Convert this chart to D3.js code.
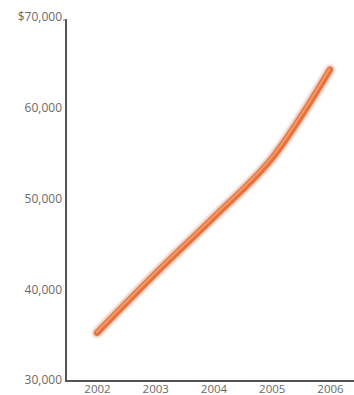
<!DOCTYPE html>
<html>
<head>
<meta charset="utf-8">
<script src="https://cdn.jsdelivr.net/npm/d3@7"></script>
<style>
  html, body { margin: 0; padding: 0; background: #fff; }
  svg { display: block; }
</style>
</head>
<body>
<svg id="chart" width="354" height="395"></svg>
<script>
// Yearly values
const years = ["2002", "2003", "2004", "2005", "2006"];
const values = [35200, 41700, 47900, 54400, 64200];
const yTicks = [30000, 40000, 50000, 60000, 70000];

const svg = d3.select("#chart");
const W = 354, H = 395;
const axisX = 66, axisY = 381, topY = 17;

const x = d3.scalePoint().domain(years).range([97, 330]);
const y = d3.scaleLinear().domain([30000, 70000]).range([380, topY]);

const defs = svg.append("defs");
const blur = defs.append("filter").attr("id", "soft")
  .attr("x", "-10%").attr("y", "-10%").attr("width", "120%").attr("height", "120%");
blur.append("feGaussianBlur").attr("stdDeviation", 1.4);
const tiny = defs.append("filter").attr("id", "tiny");
tiny.append("feGaussianBlur").attr("stdDeviation", 0.5);

// Axes: labels only, lines drawn separately
const fmt = d3.format(",");
const yAxis = d3.axisLeft(y).tickValues(yTicks).tickSize(0).tickPadding(4)
  .tickFormat(d => (d === 70000 ? "$" : "") + fmt(d));
const gy = svg.append("g").attr("transform", `translate(${axisX},0)`).call(yAxis);
gy.select(".domain").remove();
gy.selectAll("text")
  .attr("font-family", "'Open Sans', sans-serif")
  .attr("font-size", 12).attr("fill", "#6a6a6a");

const xAxis = d3.axisBottom(x).tickSize(0).tickPadding(4);
const gx = svg.append("g").attr("transform", `translate(0,${axisY})`).call(xAxis);
gx.select(".domain").remove();
gx.selectAll("text")
  .attr("font-family", "'Open Sans', sans-serif")
  .attr("font-size", 11.5).attr("fill", "#6a6a6a");

svg.append("line").attr("x1", axisX).attr("x2", axisX).attr("y1", 19).attr("y2", axisY + 1)
  .attr("stroke", "#555").attr("stroke-width", 2);
svg.append("line").attr("x1", axisX - 1).attr("x2", W).attr("y1", axisY).attr("y2", axisY)
  .attr("stroke", "#555").attr("stroke-width", 2);
svg.append("line").attr("x1", axisX - 3).attr("x2", axisX).attr("y1", 20).attr("y2", 20)
  .attr("stroke", "#777").attr("stroke-width", 1);

// Data line with soft shadow and highlight
const pts = years.map((yr, i) => [x(yr), y(values[i])]);
const line = d3.line().curve(d3.curveCatmullRom.alpha(0.5));

svg.append("path").attr("d", line(pts))
  .attr("fill", "none").attr("stroke", "#c8501f").attr("stroke-opacity", 0.5)
  .attr("stroke-width", 8.5).attr("stroke-linecap", "round").attr("filter", "url(#soft)");
svg.append("path").attr("d", line(pts))
  .attr("fill", "none").attr("stroke", "#e8713a")
  .attr("stroke-width", 6).attr("stroke-linecap", "round").attr("filter", "url(#tiny)");
svg.append("path").attr("d", line(pts))
  .attr("fill", "none").attr("stroke", "#f5a874").attr("stroke-opacity", 0.75)
  .attr("stroke-width", 2).attr("stroke-linecap", "round")
  .attr("transform", "translate(-0.6,-0.6)").attr("filter", "url(#tiny)");
</script>
</body>
</html>
